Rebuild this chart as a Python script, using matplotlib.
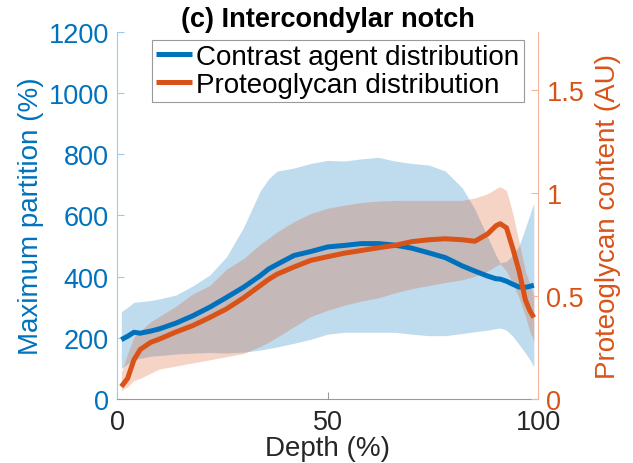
import matplotlib
matplotlib.use("Agg")
import matplotlib.pyplot as plt
from matplotlib.ticker import FormatStrFormatter

# depth through cartilage (%)
depth = [1, 2.5, 4, 5.5, 8, 10, 14, 18, 22, 26, 30, 34, 36, 38, 42, 46, 50, 54, 58,
         62, 66, 70, 74, 78, 82, 85, 88, 90, 91, 92.5, 94, 95.5, 97, 98, 99]

# contrast agent: maximum partition (%), mean and band
ca_mean = [194, 205, 218, 215, 222, 229, 248, 272, 300, 332, 365, 403, 425, 440, 469, 482, 497, 502, 508,
           508, 503, 493, 478, 462, 435, 418, 402, 393, 392, 385, 375, 366, 365, 368, 372]
ca_hi = [285, 300, 316, 318, 322, 327, 340, 370, 405, 465, 560, 680, 720, 745, 755, 770, 780, 778, 785,
         790, 778, 770, 765, 745, 690, 620, 530, 470, 445, 450, 470, 501, 560, 600, 640]
ca_lo = [100, 115, 128, 133, 140, 142, 147, 150, 152, 150, 153, 160, 165, 170, 182, 195, 212, 218, 218,
         218, 218, 212, 207, 207, 214, 220, 225, 230, 232, 225, 205, 178, 150, 130, 105]

# proteoglycan content (AU), mean and band
pg_mean = [0.06, 0.10, 0.19, 0.24, 0.275, 0.29, 0.325, 0.356, 0.395, 0.437, 0.49, 0.55, 0.58, 0.605, 0.64,
           0.672, 0.69, 0.707, 0.72, 0.733, 0.745, 0.763, 0.772, 0.777, 0.772, 0.765, 0.80, 0.84, 0.85,
           0.83, 0.73, 0.62, 0.48, 0.43, 0.395]
pg_hi = [0.13, 0.22, 0.30, 0.33, 0.375, 0.40, 0.45, 0.51, 0.55, 0.63, 0.68, 0.75, 0.78, 0.81, 0.86,
         0.90, 0.925, 0.94, 0.953, 0.96, 0.963, 0.963, 0.963, 0.963, 0.963, 0.975, 0.995, 1.02, 1.03,
         1.01, 0.90, 0.76, 0.62, 0.56, 0.50]
pg_lo = [0.04, 0.06, 0.09, 0.10, 0.125, 0.145, 0.16, 0.175, 0.19, 0.205, 0.22, 0.255, 0.275, 0.30, 0.35,
         0.40, 0.43, 0.455, 0.475, 0.49, 0.515, 0.535, 0.55, 0.565, 0.578, 0.595, 0.62, 0.645, 0.655,
         0.62, 0.56, 0.49, 0.40, 0.33, 0.28]

blue = "#0072BD"
orange = "#D95319"

plt.rcParams["font.family"] = ["Liberation Sans", "DejaVu Sans"]

fig = plt.figure(figsize=(6.33, 4.64), dpi=100)
ax1 = fig.add_axes([0.185, 0.138, 0.665, 0.791])
ax2 = ax1.twinx()

ax1.fill_between(depth, ca_lo, ca_hi, color=blue, alpha=0.25, linewidth=0)
ax2.fill_between(depth, pg_lo, pg_hi, color=orange, alpha=0.25, linewidth=0, zorder=1)
# blue mean drawn on the twin axes (in left-axis units) so it sits above the orange band
l1, = ax2.plot(depth, ca_mean, color=blue, lw=3.6, transform=ax1.transData, zorder=2,
               solid_capstyle="butt", label="Contrast agent distribution")
l2, = ax2.plot(depth, pg_mean, color=orange, lw=3.6, zorder=3,
               solid_capstyle="butt", label="Proteoglycan distribution")

ax1.set_xlim(0, 100)
ax1.set_ylim(0, 1200)
ax2.set_ylim(0, 1.78)
ax1.set_xticks([0, 50, 100])
ax1.set_yticks(range(0, 1201, 200))
ax2.set_yticks([0, 0.5, 1, 1.5])
ax2.yaxis.set_major_formatter(FormatStrFormatter("%g"))

for s in ["top", "right"]:
    ax1.spines[s].set_visible(False)
for s in ["top", "left", "bottom"]:
    ax2.spines[s].set_visible(False)
ax1.spines["left"].set_color("#9fcbeb")
ax2.spines["right"].set_color("#f2b79c")
ax1.spines["bottom"].set_color("#9a9a9a")

ax1.tick_params(axis="x", direction="in", length=5, pad=7, labelsize=19.5,
                color="#9a9a9a", labelcolor="#262626")
ax1.tick_params(axis="y", direction="in", length=5, pad=6, labelsize=19.5,
                color="#9fcbeb", labelcolor=blue)
ax2.tick_params(axis="y", direction="in", length=5, pad=6, labelsize=19.5,
                color="#f2b79c", labelcolor=orange)

ax1.set_xlabel("Depth (%)", fontsize=20, color="#262626", labelpad=0)
ax1.set_ylabel("Maximum partition (%)", fontsize=20, color=blue, labelpad=3)
ax2.set_ylabel("Proteoglycan content (AU)", fontsize=20, color=orange, labelpad=8)
ax1.set_title("(c) Intercondylar notch", fontsize=19.5, fontweight="bold", pad=1)

leg = ax2.legend(handles=[l1, l2], loc="upper left", bbox_to_anchor=(0.083, 0.978),
                 fontsize=20, frameon=True, fancybox=False, framealpha=1,
                 edgecolor="#9a9a9a", handlelength=1.3, handletextpad=0.15,
                 borderpad=0.15, labelspacing=0.05, borderaxespad=0)
leg.get_frame().set_linewidth(0.8)
leg.set_zorder(10)

fig.savefig("out.png", dpi=100)
